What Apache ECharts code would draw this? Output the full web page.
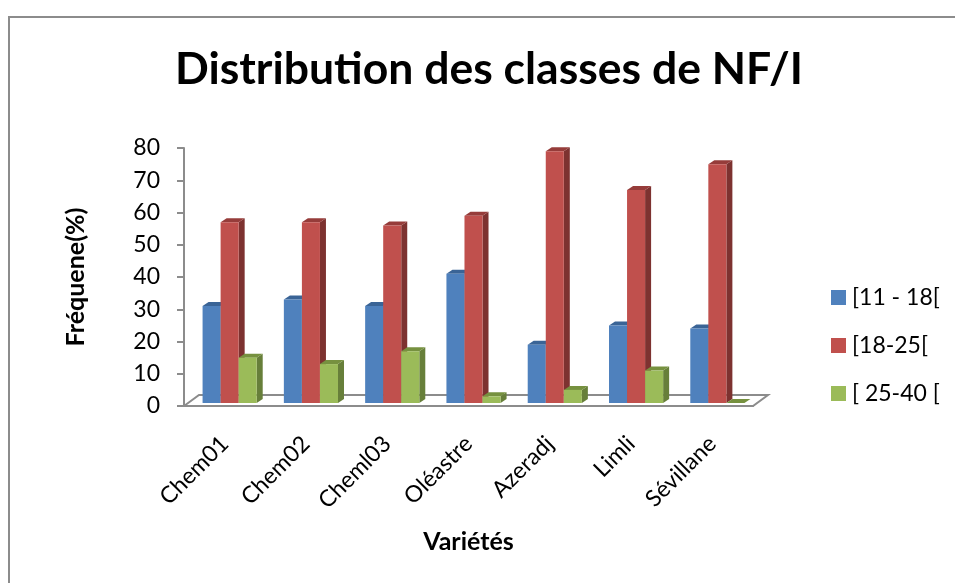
<!DOCTYPE html>
<html><head><meta charset="utf-8">
<style>html,body{margin:0;padding:0;background:#fff}#c{width:955px;height:583px}</style>
<script src="https://cdn.jsdelivr.net/npm/echarts@6/dist/echarts.min.js"></script>
</head><body><div id="c"></div>
<script>
const categories = ['Chem01','Chem02','Cheml03','Oléastre','Azeradj','Limli','Sévillane'];
const seriesNames = ['[11 - 18[','[18-25[','[ 25-40 ['];
const classA = [31,33,31,41,19,25,24];
const classB = [57,57,56,59,79,67,75];
const classC = [15,13,17,3,5,11,0];
const yTicks = [0,10,20,30,40,50,60,70,80];

const FONT = 'Lato, Carlito, "Open Sans", sans-serif';
const front = ['#4f81bd','#c0504d','#9bbb59'];
const top_ = ['#3a6496','#963c3a','#76913f'];
const side = ['#385d8a','#7d3230','#677f3a'];
const gridLine = '#8c8c8c';
const chart = echarts.init(document.getElementById('c'),null,{renderer:'canvas'});

function barSeries(idx, values){
  return {
    name: seriesNames[idx], type:'custom', z: 5+idx,
    itemStyle:{color:front[idx]},
    data: values.map((v,i)=>[i,v]),
    renderItem(params, api){
      const i = api.value(0), v = api.value(1);
      const band = api.size([1,0])[0];
      const w = band*0.222, shift = 5, dx = 6, dy = 4;
      const cx = api.coord([i,0])[0] + shift;
      const x0 = cx - 1.5*w + idx*w;
      const y0 = api.coord([i,0])[1] - 3;
      const yT = Math.min(api.coord([i,v])[1], y0);
      const x1 = x0+w;
      return {type:'group', children:[
        {type:'polygon', shape:{points:[[x1,y0],[x1+dx,y0-dy],[x1+dx,yT-dy],[x1,yT]]}, style:{fill:side[idx]}},
        {type:'polygon', shape:{points:[[x0,yT],[x0+dx,yT-dy],[x1+dx,yT-dy],[x1,yT]]}, style:{fill:top_[idx]}},
        {type:'rect', shape:{x:x0,y:yT,width:w,height:y0-yT}, style:{fill:front[idx]}}
      ]};
    }
  };
}
const floorSeries = {
  type:'custom', silent:true, z:1, legendHoverLink:false, data:[[0,0]],
  renderItem(params, api){
    const c = params.coordSys;
    const xL = c.x, xR = c.x+c.width, yF = c.y+c.height, dx=15, dy=11;
    const s = {stroke:gridLine, fill:'#fff', lineWidth:2};
    return {type:'polygon', shape:{points:[[xL,yF],[xL+dx,yF-dy],[xR+dx,yF-dy],[xR,yF]]}, style:s};
  }
};
chart.setOption({
  animation:false,
  backgroundColor:'#fff',
  title:{text:'Distribution des classes de NF/I', left:484, top:42, textAlign:'center',
    textStyle:{fontFamily:FONT,fontWeight:'bold',fontSize:44.5,color:'#000'}},
  legend:{orient:'vertical', left:826, top:281, itemWidth:15, itemHeight:15, itemGap:25, icon:'rect',
    data:seriesNames, textStyle:{fontFamily:FONT,fontSize:23,color:'#000',padding:[0,0,0,1]}},
  grid:{left:184, right:202, top:148, bottom:177, containLabel:false},
  xAxis:{type:'category', data:categories, boundaryGap:true,
    axisLine:{show:true,lineStyle:{color:gridLine,width:2}}, axisTick:{show:false},
    axisLabel:{rotate:45, fontFamily:FONT, fontSize:23, color:'#000', margin:34, interval:0},
    name:'Variétés', nameLocation:'middle', nameGap:123,
    nameTextStyle:{fontFamily:FONT,fontWeight:'bold',fontSize:25,color:'#000'}},
  yAxis:{type:'value', min:0, max:80, interval:10,
    axisLine:{show:true,lineStyle:{color:gridLine,width:2}},
    axisTick:{show:true,length:7,lineStyle:{color:gridLine,width:2}},
    splitLine:{show:false},
    axisLabel:{fontFamily:FONT,fontSize:23,color:'#000',margin:24,padding:[6,0,0,0],
      formatter:v=>yTicks.includes(v)?String(v):''},
    name:'Fréquene(%)', nameLocation:'middle', nameGap:96, nameRotate:90,
    nameTextStyle:{fontFamily:FONT,fontWeight:'bold',fontSize:25,color:'#000'}},
  graphic:[{type:'rect', z:-1, shape:{x:9,y:17,width:1000,height:1000}, style:{fill:'none',stroke:'#8c8c8c',lineWidth:2}}],
  series:[floorSeries, barSeries(0,classA), barSeries(1,classB), barSeries(2,classC)]
});
</script></body></html>
